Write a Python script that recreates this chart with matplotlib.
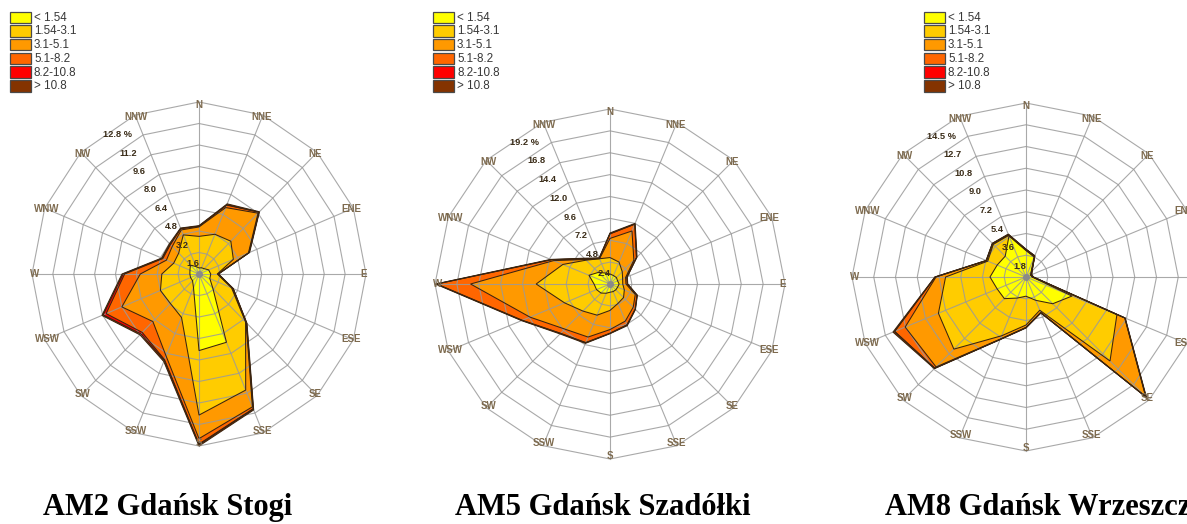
import numpy as np
import matplotlib
matplotlib.use("Agg")
import matplotlib.pyplot as plt
from matplotlib.patches import Polygon, Rectangle
from matplotlib import font_manager

W, H, DPI = 1187, 524, 100

directions = ["N", "NNE", "NE", "ENE", "E", "ESE", "SE", "SSE",
              "S", "SSW", "SW", "WSW", "W", "WNW", "NW", "NNW"]
speed_classes = ["< 1.54", "1.54-3.1", "3.1-5.1", "5.1-8.2", "8.2-10.8", "> 10.8"]
class_colors = ["#FFFF00", "#FFCC00", "#FF9900", "#FF6600", "#FF0000", "#843300"]

# AM2 Gdańsk Stogi - frequency [%] per direction and wind-speed class [m/s]
stogi_lt154 = [0.45, 0.5, 0.56, 0.8, 0.9, 0.9, 1.5, 5.5, 5.7, 1.1, 0.7, 0.7, 0.7, 0.75, 0.93, 0.6]
stogi_154_31 = [2.35, 2.7, 2.89, 2.05, 0.5, 1.8, 3.55, 3.85, 4.8, 2.4, 2.4, 2.5, 2.15, 1.35, 1.27, 2.55]
stogi_31_51 = [0.7, 2.15, 2.95, 1.25, 0.05, 0.1, 0.05, 1.35, 1.75, 3.1, 1.9, 3.2, 1.65, 0.6, 0.7, 0.4]
stogi_51_82 = [0.05, 0.2, 0.1, 0.05, 0.02, 0.02, 0.05, 0.15, 0.4, 0.3, 1.15, 1.3, 1.2, 0.3, 0.2, 0.1]
stogi_82_108 = [0.01, 0.02, 0.01, 0.01, 0.01, 0.01, 0.01, 0.03, 0.05, 0.05, 0.15, 0.25, 0.12, 0.05, 0.03, 0.02]
stogi_gt108 = [0.04, 0.08, 0.04, 0.04, 0.02, 0.02, 0.04, 0.07, 0.1, 0.1, 0.1, 0.1, 0.08, 0.05, 0.07, 0.03]
stogi_rings = ["1.6", "3.2", "4.8", "6.4", "8.0", "9.6", "11.2", "12.8 %"]
stogi_rmax = 12.8

# AM5 Gdańsk Szadółki
szad_lt154 = [1.1, 1.0, 1.0, 0.9, 1.0, 0.9, 0.9, 0.9, 0.9, 1.1, 1.4, 1.6, 1.75, 2.5, 1.8, 1.3]
szad_154_31 = [1.8, 1.6, 0.9, 0.6, 0.4, 0.8, 1.2, 1.4, 2.0, 2.6, 2.8, 3.8, 6.35, 3.1, 1.9, 1.7]
szad_31_51 = [2.1, 3.7, 1.8, 0.35, 0.35, 1.3, 1.5, 2.1, 2.1, 2.6, 2.8, 4.1, 7.2, 1.1, 0.1, 0.0]
szad_51_82 = [0.5, 0.8, 0.4, 0.15, 0.15, 0.2, 0.3, 0.45, 0.4, 0.65, 0.65, 0.9, 3.7, 0.25, 0.1, 0.05]
szad_82_108 = [0.02, 0.02, 0.02, 0.02, 0.02, 0.02, 0.02, 0.03, 0.02, 0.03, 0.03, 0.05, 0.05, 0.03, 0.03, 0.02]
szad_gt108 = [0.08, 0.08, 0.08, 0.03, 0.03, 0.03, 0.03, 0.07, 0.03, 0.07, 0.07, 0.05, 0.1, 0.07, 0.07, 0.03]
szad_rings = ["2.4", "4.8", "7.2", "9.6", "12.0", "14.4", "16.8", "19.2 %"]
szad_rmax = 19.2

# AM8 Gdańsk Wrzeszcz
wrz_lt154 = [2.2, 1.8, 0.6, 0.4, 0.5, 4.15, 3.15, 2.1, 1.6, 1.9, 2.55, 2.6, 3.0, 2.6, 2.45, 3.7]
wrz_154_31 = [0.05, 0.05, 0.05, 0.05, 0.05, 4.05, 6.75, 0.9, 2.4, 3.4, 5.95, 5.3, 3.7, 0.85, 1.4, 0.05]
wrz_31_51 = [0.03, 0.03, 0.03, 0.03, 0.03, 0.7, 4.2, 0.2, 0.2, 0.3, 2.1, 3.0, 0.8, 0.1, 0.07, 0.05]
wrz_51_82 = [0.02, 0.02, 0.02, 0.02, 0.02, 0.03, 0.05, 0.02, 0.02, 0.03, 0.15, 0.95, 0.07, 0.03, 0.03, 0.03]
wrz_82_108 = [0.0, 0.0, 0.0, 0.0, 0.0, 0.0, 0.0, 0.0, 0.0, 0.0, 0.0, 0.0, 0.0, 0.0, 0.0, 0.0]
wrz_gt108 = [0.02, 0.02, 0.02, 0.02, 0.02, 0.02, 0.05, 0.03, 0.03, 0.02, 0.05, 0.15, 0.03, 0.02, 0.02, 0.04]
wrz_rings = ["1.8", "3.6", "5.4", "7.2", "9.0", "10.8", "12.7", "14.5 %"]
wrz_rmax = 14.5

station_names = ["AM2 Gdańsk Stogi", "AM5 Gdańsk Szadółki", "AM8 Gdańsk Wrzeszcz"]

# ---- fonts -------------------------------------------------------------
installed = {f.name for f in font_manager.fontManager.ttflist}
if "Liberation Sans Narrow" in installed:
    small_family, legend_size, ring_size, dir_size = "Liberation Sans Narrow", 9.4, 7.8, 8.2
else:
    small_family, legend_size, ring_size, dir_size = "Liberation Sans", 8.4, 6.7, 7.0

fig = plt.figure(figsize=(W / DPI, H / DPI), dpi=DPI)
fig.patch.set_facecolor("white")

# overlay in pixel units for legends and titles
over = fig.add_axes([0, 0, 1, 1], zorder=5)
over.set_xlim(0, W)
over.set_ylim(H, 0)
over.axis("off")

GRID = "#9a9a9a"
EDGE = "#3a2410"


def draw_rose(center, radius, rmax, ring_labels, classes):
    cx, cy = center
    rx, ry = radius
    pad = 1.12
    ax = fig.add_axes([(cx - rx * pad) / W, 1 - (cy + ry * pad) / H,
                       2 * rx * pad / W, 2 * ry * pad / H])
    ax.set_xlim(-rmax * pad, rmax * pad)
    ax.set_ylim(-rmax * pad, rmax * pad)
    ax.set_aspect("auto")
    ax.axis("off")

    theta = np.deg2rad(np.arange(len(directions)) * 22.5)
    sin_t, cos_t = np.sin(theta), np.cos(theta)
    cum = np.cumsum(np.array(classes, dtype=float), axis=0)

    # stacked frequency polygons, outermost class first
    for k in range(len(classes) - 1, -1, -1):
        r = cum[k]
        xy = np.column_stack([r * sin_t, r * cos_t])
        ax.add_patch(Polygon(xy, closed=True, facecolor=class_colors[k],
                             edgecolor="none", zorder=1, clip_on=False))

    # 16-sided grid rings and spokes
    n_rings = len(ring_labels)
    for i in range(1, n_rings + 1):
        v = rmax * i / n_rings
        ax.add_patch(Polygon(np.column_stack([v * sin_t, v * cos_t]), closed=True,
                             fill=False, edgecolor=GRID, lw=0.8, alpha=0.85,
                             zorder=2, clip_on=False))
    for s, c in zip(sin_t, cos_t):
        ax.plot([0, rmax * s], [0, rmax * c], color=GRID, lw=0.8, alpha=0.85,
                zorder=2, clip_on=False)

    # class boundaries
    for k in range(len(classes)):
        r = cum[k]
        ax.add_patch(Polygon(np.column_stack([r * sin_t, r * cos_t]), closed=True,
                             fill=False, edgecolor=EDGE, lw=0.75, zorder=3,
                             clip_on=False))

    ax.plot([0], [0], "o", ms=4, color="#8a8a8a", zorder=4, clip_on=False)

    # direction names at the outer vertices
    for name, s, c in zip(directions, sin_t, cos_t):
        ax.text(0.985 * rmax * s, 0.985 * rmax * c, name, ha="center", va="center",
                fontsize=dir_size, fontweight="bold", color="#7d6a4e",
                family=small_family, zorder=6, clip_on=False)

    # ring values along a line towards NNW
    ang = np.deg2rad(31)
    for i, lab in enumerate(ring_labels, start=1):
        rho = rmax * i / n_rings - 0.055 * rmax
        ax.text(-rho * np.sin(ang), rho * np.cos(ang), lab, ha="center", va="center",
                fontsize=ring_size, fontweight="bold", color="#3a2c18",
                family=small_family, zorder=6, clip_on=False)


def draw_legend(x0, y0):
    step, bw, bh = 13.7, 21, 11.5
    for i, (lab, col) in enumerate(zip(speed_classes, class_colors)):
        y = y0 + i * step
        over.add_patch(Rectangle((x0, y), bw, bh, facecolor=col,
                                 edgecolor="#4a4a4a", lw=0.9))
        over.text(x0 + bw + 3, y + bh / 2 + 0.5, lab, ha="left", va="center",
                  fontsize=legend_size, color="#383838", family=small_family)


stations = [
    ((199, 274), (167, 172), stogi_rmax, stogi_rings,
     [stogi_lt154, stogi_154_31, stogi_31_51, stogi_51_82, stogi_82_108, stogi_gt108]),
    ((610, 284), (175, 175), szad_rmax, szad_rings,
     [szad_lt154, szad_154_31, szad_31_51, szad_51_82, szad_82_108, szad_gt108]),
    ((1026, 277), (174, 174), wrz_rmax, wrz_rings,
     [wrz_lt154, wrz_154_31, wrz_31_51, wrz_51_82, wrz_82_108, wrz_gt108]),
]
for center, radius, rmax, rings, classes in stations:
    draw_rose(center, radius, rmax, rings, classes)

for lx in (10, 433, 924):
    draw_legend(lx, 11.5)

for tx, name in zip((43, 455, 885), station_names):
    over.text(tx, 515, name, ha="left", va="baseline", fontsize=22,
              fontweight="bold", family="Liberation Serif", color="black")

fig.savefig("out.png", dpi=DPI, facecolor="white")
